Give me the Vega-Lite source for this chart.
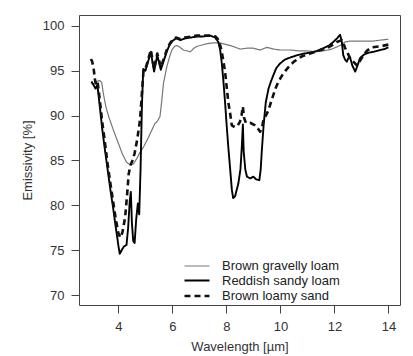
{
  "$schema": "https://vega.github.io/schema/vega-lite/v6.json",
  "autosize": "none",
  "width": 321,
  "height": 290,
  "padding": {"left": 79, "top": 15, "right": 13, "bottom": 51},
  "background": "white",
  "config": {
    "view": {"stroke": "#444444", "strokeWidth": 1},
    "font": "Liberation Sans",
    "axis": {"grid": false, "domain": false, "labelFont": "Liberation Sans", "titleFont": "Liberation Sans", "labelFontSize": 13, "titleFontSize": 13, "titleFontWeight": "normal", "labelColor": "#333333", "titleColor": "#333333", "tickColor": "#444444", "tickSize": 8}
  },
  "data": {"values": [
    {"x":3.0,"y":93.5,"soil":"Brown gravelly loam"},
    {"x":3.1,"y":93.6,"soil":"Brown gravelly loam"},
    {"x":3.2,"y":93.8,"soil":"Brown gravelly loam"},
    {"x":3.3,"y":93.9,"soil":"Brown gravelly loam"},
    {"x":3.38,"y":93.7,"soil":"Brown gravelly loam"},
    {"x":3.45,"y":92.3,"soil":"Brown gravelly loam"},
    {"x":3.55,"y":90.8,"soil":"Brown gravelly loam"},
    {"x":3.65,"y":89.8,"soil":"Brown gravelly loam"},
    {"x":3.8,"y":88.5,"soil":"Brown gravelly loam"},
    {"x":4.0,"y":86.9,"soil":"Brown gravelly loam"},
    {"x":4.15,"y":85.7,"soil":"Brown gravelly loam"},
    {"x":4.3,"y":84.8,"soil":"Brown gravelly loam"},
    {"x":4.45,"y":84.5,"soil":"Brown gravelly loam"},
    {"x":4.55,"y":84.6,"soil":"Brown gravelly loam"},
    {"x":4.68,"y":85.2,"soil":"Brown gravelly loam"},
    {"x":4.8,"y":85.9,"soil":"Brown gravelly loam"},
    {"x":4.93,"y":86.5,"soil":"Brown gravelly loam"},
    {"x":5.1,"y":87.5,"soil":"Brown gravelly loam"},
    {"x":5.24,"y":88.4,"soil":"Brown gravelly loam"},
    {"x":5.35,"y":89.1,"soil":"Brown gravelly loam"},
    {"x":5.45,"y":89.4,"soil":"Brown gravelly loam"},
    {"x":5.54,"y":89.9,"soil":"Brown gravelly loam"},
    {"x":5.6,"y":91.5,"soil":"Brown gravelly loam"},
    {"x":5.67,"y":93.6,"soil":"Brown gravelly loam"},
    {"x":5.79,"y":95.4,"soil":"Brown gravelly loam"},
    {"x":5.9,"y":96.6,"soil":"Brown gravelly loam"},
    {"x":5.98,"y":97.3,"soil":"Brown gravelly loam"},
    {"x":6.08,"y":97.7,"soil":"Brown gravelly loam"},
    {"x":6.16,"y":97.8,"soil":"Brown gravelly loam"},
    {"x":6.28,"y":97.6,"soil":"Brown gravelly loam"},
    {"x":6.41,"y":97.3,"soil":"Brown gravelly loam"},
    {"x":6.55,"y":97.2,"soil":"Brown gravelly loam"},
    {"x":6.66,"y":97.1,"soil":"Brown gravelly loam"},
    {"x":6.8,"y":97.5,"soil":"Brown gravelly loam"},
    {"x":6.9,"y":97.7,"soil":"Brown gravelly loam"},
    {"x":7.03,"y":97.8,"soil":"Brown gravelly loam"},
    {"x":7.27,"y":98.0,"soil":"Brown gravelly loam"},
    {"x":7.52,"y":98.1,"soil":"Brown gravelly loam"},
    {"x":7.75,"y":98.1,"soil":"Brown gravelly loam"},
    {"x":8.01,"y":97.9,"soil":"Brown gravelly loam"},
    {"x":8.25,"y":97.7,"soil":"Brown gravelly loam"},
    {"x":8.51,"y":97.4,"soil":"Brown gravelly loam"},
    {"x":8.75,"y":97.5,"soil":"Brown gravelly loam"},
    {"x":9.0,"y":97.5,"soil":"Brown gravelly loam"},
    {"x":9.25,"y":97.3,"soil":"Brown gravelly loam"},
    {"x":9.5,"y":97.6,"soil":"Brown gravelly loam"},
    {"x":9.75,"y":97.4,"soil":"Brown gravelly loam"},
    {"x":9.99,"y":97.3,"soil":"Brown gravelly loam"},
    {"x":10.36,"y":97.3,"soil":"Brown gravelly loam"},
    {"x":10.7,"y":97.2,"soil":"Brown gravelly loam"},
    {"x":10.98,"y":97.2,"soil":"Brown gravelly loam"},
    {"x":11.3,"y":97.1,"soil":"Brown gravelly loam"},
    {"x":11.59,"y":97.2,"soil":"Brown gravelly loam"},
    {"x":11.9,"y":97.4,"soil":"Brown gravelly loam"},
    {"x":12.21,"y":97.8,"soil":"Brown gravelly loam"},
    {"x":12.4,"y":98.2,"soil":"Brown gravelly loam"},
    {"x":12.6,"y":98.3,"soil":"Brown gravelly loam"},
    {"x":12.83,"y":98.3,"soil":"Brown gravelly loam"},
    {"x":13.1,"y":98.3,"soil":"Brown gravelly loam"},
    {"x":13.44,"y":98.3,"soil":"Brown gravelly loam"},
    {"x":13.7,"y":98.4,"soil":"Brown gravelly loam"},
    {"x":14.0,"y":98.5,"soil":"Brown gravelly loam"},

    {"x":3.0,"y":93.8,"soil":"Reddish sandy loam"},
    {"x":3.08,"y":93.4,"soil":"Reddish sandy loam"},
    {"x":3.15,"y":93.0,"soil":"Reddish sandy loam"},
    {"x":3.22,"y":93.4,"soil":"Reddish sandy loam"},
    {"x":3.3,"y":91.3,"soil":"Reddish sandy loam"},
    {"x":3.4,"y":88.5,"soil":"Reddish sandy loam"},
    {"x":3.5,"y":86.2,"soil":"Reddish sandy loam"},
    {"x":3.6,"y":84.0,"soil":"Reddish sandy loam"},
    {"x":3.7,"y":81.8,"soil":"Reddish sandy loam"},
    {"x":3.8,"y":79.8,"soil":"Reddish sandy loam"},
    {"x":3.9,"y":77.6,"soil":"Reddish sandy loam"},
    {"x":4.0,"y":75.5,"soil":"Reddish sandy loam"},
    {"x":4.05,"y":74.6,"soil":"Reddish sandy loam"},
    {"x":4.12,"y":75.0,"soil":"Reddish sandy loam"},
    {"x":4.2,"y":75.4,"soil":"Reddish sandy loam"},
    {"x":4.3,"y":75.6,"soil":"Reddish sandy loam"},
    {"x":4.36,"y":77.5,"soil":"Reddish sandy loam"},
    {"x":4.42,"y":80.5,"soil":"Reddish sandy loam"},
    {"x":4.46,"y":81.5,"soil":"Reddish sandy loam"},
    {"x":4.5,"y":78.0,"soil":"Reddish sandy loam"},
    {"x":4.55,"y":76.0,"soil":"Reddish sandy loam"},
    {"x":4.6,"y":75.8,"soil":"Reddish sandy loam"},
    {"x":4.66,"y":78.5,"soil":"Reddish sandy loam"},
    {"x":4.72,"y":80.2,"soil":"Reddish sandy loam"},
    {"x":4.77,"y":79.0,"soil":"Reddish sandy loam"},
    {"x":4.82,"y":84.0,"soil":"Reddish sandy loam"},
    {"x":4.87,"y":91.0,"soil":"Reddish sandy loam"},
    {"x":4.92,"y":95.2,"soil":"Reddish sandy loam"},
    {"x":5.0,"y":95.0,"soil":"Reddish sandy loam"},
    {"x":5.08,"y":95.8,"soil":"Reddish sandy loam"},
    {"x":5.2,"y":97.1,"soil":"Reddish sandy loam"},
    {"x":5.32,"y":94.9,"soil":"Reddish sandy loam"},
    {"x":5.44,"y":96.7,"soil":"Reddish sandy loam"},
    {"x":5.57,"y":95.1,"soil":"Reddish sandy loam"},
    {"x":5.69,"y":96.2,"soil":"Reddish sandy loam"},
    {"x":5.8,"y":97.2,"soil":"Reddish sandy loam"},
    {"x":5.9,"y":97.9,"soil":"Reddish sandy loam"},
    {"x":6.0,"y":98.3,"soil":"Reddish sandy loam"},
    {"x":6.13,"y":98.6,"soil":"Reddish sandy loam"},
    {"x":6.3,"y":98.4,"soil":"Reddish sandy loam"},
    {"x":6.47,"y":98.6,"soil":"Reddish sandy loam"},
    {"x":6.7,"y":98.7,"soil":"Reddish sandy loam"},
    {"x":6.9,"y":98.8,"soil":"Reddish sandy loam"},
    {"x":7.1,"y":98.8,"soil":"Reddish sandy loam"},
    {"x":7.4,"y":98.9,"soil":"Reddish sandy loam"},
    {"x":7.58,"y":98.7,"soil":"Reddish sandy loam"},
    {"x":7.7,"y":98.2,"soil":"Reddish sandy loam"},
    {"x":7.77,"y":97.3,"soil":"Reddish sandy loam"},
    {"x":7.83,"y":95.8,"soil":"Reddish sandy loam"},
    {"x":7.89,"y":93.8,"soil":"Reddish sandy loam"},
    {"x":7.95,"y":91.5,"soil":"Reddish sandy loam"},
    {"x":8.01,"y":88.9,"soil":"Reddish sandy loam"},
    {"x":8.07,"y":86.5,"soil":"Reddish sandy loam"},
    {"x":8.14,"y":84.0,"soil":"Reddish sandy loam"},
    {"x":8.2,"y":81.8,"soil":"Reddish sandy loam"},
    {"x":8.25,"y":80.8,"soil":"Reddish sandy loam"},
    {"x":8.32,"y":81.0,"soil":"Reddish sandy loam"},
    {"x":8.44,"y":82.4,"soil":"Reddish sandy loam"},
    {"x":8.52,"y":84.0,"soil":"Reddish sandy loam"},
    {"x":8.57,"y":86.5,"soil":"Reddish sandy loam"},
    {"x":8.61,"y":89.0,"soil":"Reddish sandy loam"},
    {"x":8.64,"y":86.0,"soil":"Reddish sandy loam"},
    {"x":8.7,"y":84.0,"soil":"Reddish sandy loam"},
    {"x":8.76,"y":83.2,"soil":"Reddish sandy loam"},
    {"x":8.88,"y":83.0,"soil":"Reddish sandy loam"},
    {"x":9.0,"y":83.2,"soil":"Reddish sandy loam"},
    {"x":9.1,"y":82.9,"soil":"Reddish sandy loam"},
    {"x":9.22,"y":82.8,"soil":"Reddish sandy loam"},
    {"x":9.27,"y":84.0,"soil":"Reddish sandy loam"},
    {"x":9.31,"y":86.0,"soil":"Reddish sandy loam"},
    {"x":9.38,"y":89.0,"soil":"Reddish sandy loam"},
    {"x":9.46,"y":91.5,"soil":"Reddish sandy loam"},
    {"x":9.56,"y":93.0,"soil":"Reddish sandy loam"},
    {"x":9.65,"y":93.8,"soil":"Reddish sandy loam"},
    {"x":9.74,"y":94.5,"soil":"Reddish sandy loam"},
    {"x":9.85,"y":95.3,"soil":"Reddish sandy loam"},
    {"x":9.99,"y":95.8,"soil":"Reddish sandy loam"},
    {"x":10.15,"y":96.2,"soil":"Reddish sandy loam"},
    {"x":10.3,"y":96.4,"soil":"Reddish sandy loam"},
    {"x":10.6,"y":96.7,"soil":"Reddish sandy loam"},
    {"x":10.85,"y":96.9,"soil":"Reddish sandy loam"},
    {"x":11.1,"y":97.0,"soil":"Reddish sandy loam"},
    {"x":11.35,"y":97.2,"soil":"Reddish sandy loam"},
    {"x":11.59,"y":97.5,"soil":"Reddish sandy loam"},
    {"x":11.8,"y":97.8,"soil":"Reddish sandy loam"},
    {"x":11.96,"y":98.2,"soil":"Reddish sandy loam"},
    {"x":12.1,"y":98.6,"soil":"Reddish sandy loam"},
    {"x":12.21,"y":99.0,"soil":"Reddish sandy loam"},
    {"x":12.27,"y":98.3,"soil":"Reddish sandy loam"},
    {"x":12.33,"y":96.7,"soil":"Reddish sandy loam"},
    {"x":12.4,"y":96.2,"soil":"Reddish sandy loam"},
    {"x":12.46,"y":96.0,"soil":"Reddish sandy loam"},
    {"x":12.52,"y":96.4,"soil":"Reddish sandy loam"},
    {"x":12.58,"y":96.5,"soil":"Reddish sandy loam"},
    {"x":12.66,"y":95.6,"soil":"Reddish sandy loam"},
    {"x":12.77,"y":94.9,"soil":"Reddish sandy loam"},
    {"x":12.86,"y":95.6,"soil":"Reddish sandy loam"},
    {"x":12.95,"y":96.4,"soil":"Reddish sandy loam"},
    {"x":13.1,"y":96.8,"soil":"Reddish sandy loam"},
    {"x":13.26,"y":97.0,"soil":"Reddish sandy loam"},
    {"x":13.45,"y":97.1,"soil":"Reddish sandy loam"},
    {"x":13.69,"y":97.3,"soil":"Reddish sandy loam"},
    {"x":13.85,"y":97.4,"soil":"Reddish sandy loam"},
    {"x":14.0,"y":97.6,"soil":"Reddish sandy loam"},

    {"x":2.98,"y":96.3,"soil":"Brown loamy sand"},
    {"x":3.03,"y":96.0,"soil":"Brown loamy sand"},
    {"x":3.08,"y":95.3,"soil":"Brown loamy sand"},
    {"x":3.13,"y":94.0,"soil":"Brown loamy sand"},
    {"x":3.18,"y":93.4,"soil":"Brown loamy sand"},
    {"x":3.23,"y":93.7,"soil":"Brown loamy sand"},
    {"x":3.3,"y":92.0,"soil":"Brown loamy sand"},
    {"x":3.4,"y":89.3,"soil":"Brown loamy sand"},
    {"x":3.5,"y":87.0,"soil":"Brown loamy sand"},
    {"x":3.6,"y":84.6,"soil":"Brown loamy sand"},
    {"x":3.7,"y":82.5,"soil":"Brown loamy sand"},
    {"x":3.8,"y":80.5,"soil":"Brown loamy sand"},
    {"x":3.9,"y":78.5,"soil":"Brown loamy sand"},
    {"x":4.0,"y":76.9,"soil":"Brown loamy sand"},
    {"x":4.07,"y":76.4,"soil":"Brown loamy sand"},
    {"x":4.15,"y":77.0,"soil":"Brown loamy sand"},
    {"x":4.25,"y":78.7,"soil":"Brown loamy sand"},
    {"x":4.33,"y":81.5,"soil":"Brown loamy sand"},
    {"x":4.38,"y":83.5,"soil":"Brown loamy sand"},
    {"x":4.45,"y":84.5,"soil":"Brown loamy sand"},
    {"x":4.52,"y":85.0,"soil":"Brown loamy sand"},
    {"x":4.6,"y":85.8,"soil":"Brown loamy sand"},
    {"x":4.7,"y":87.4,"soil":"Brown loamy sand"},
    {"x":4.8,"y":89.5,"soil":"Brown loamy sand"},
    {"x":4.87,"y":92.5,"soil":"Brown loamy sand"},
    {"x":4.93,"y":95.0,"soil":"Brown loamy sand"},
    {"x":5.0,"y":95.2,"soil":"Brown loamy sand"},
    {"x":5.08,"y":96.0,"soil":"Brown loamy sand"},
    {"x":5.2,"y":97.3,"soil":"Brown loamy sand"},
    {"x":5.32,"y":95.2,"soil":"Brown loamy sand"},
    {"x":5.44,"y":96.9,"soil":"Brown loamy sand"},
    {"x":5.57,"y":95.4,"soil":"Brown loamy sand"},
    {"x":5.69,"y":96.4,"soil":"Brown loamy sand"},
    {"x":5.8,"y":97.4,"soil":"Brown loamy sand"},
    {"x":5.9,"y":98.0,"soil":"Brown loamy sand"},
    {"x":6.0,"y":98.4,"soil":"Brown loamy sand"},
    {"x":6.13,"y":98.7,"soil":"Brown loamy sand"},
    {"x":6.3,"y":98.5,"soil":"Brown loamy sand"},
    {"x":6.47,"y":98.7,"soil":"Brown loamy sand"},
    {"x":6.7,"y":98.8,"soil":"Brown loamy sand"},
    {"x":6.9,"y":98.9,"soil":"Brown loamy sand"},
    {"x":7.1,"y":98.9,"soil":"Brown loamy sand"},
    {"x":7.4,"y":98.9,"soil":"Brown loamy sand"},
    {"x":7.6,"y":98.8,"soil":"Brown loamy sand"},
    {"x":7.72,"y":98.4,"soil":"Brown loamy sand"},
    {"x":7.83,"y":97.1,"soil":"Brown loamy sand"},
    {"x":7.95,"y":94.9,"soil":"Brown loamy sand"},
    {"x":8.07,"y":91.5,"soil":"Brown loamy sand"},
    {"x":8.14,"y":90.2,"soil":"Brown loamy sand"},
    {"x":8.2,"y":88.9,"soil":"Brown loamy sand"},
    {"x":8.32,"y":88.7,"soil":"Brown loamy sand"},
    {"x":8.42,"y":88.9,"soil":"Brown loamy sand"},
    {"x":8.5,"y":89.3,"soil":"Brown loamy sand"},
    {"x":8.56,"y":90.0,"soil":"Brown loamy sand"},
    {"x":8.61,"y":91.0,"soil":"Brown loamy sand"},
    {"x":8.65,"y":89.8,"soil":"Brown loamy sand"},
    {"x":8.72,"y":89.2,"soil":"Brown loamy sand"},
    {"x":8.88,"y":89.2,"soil":"Brown loamy sand"},
    {"x":9.06,"y":88.9,"soil":"Brown loamy sand"},
    {"x":9.18,"y":88.5,"soil":"Brown loamy sand"},
    {"x":9.25,"y":88.2,"soil":"Brown loamy sand"},
    {"x":9.32,"y":88.7,"soil":"Brown loamy sand"},
    {"x":9.37,"y":89.5,"soil":"Brown loamy sand"},
    {"x":9.46,"y":90.0,"soil":"Brown loamy sand"},
    {"x":9.56,"y":90.6,"soil":"Brown loamy sand"},
    {"x":9.65,"y":91.5,"soil":"Brown loamy sand"},
    {"x":9.74,"y":92.3,"soil":"Brown loamy sand"},
    {"x":9.83,"y":93.1,"soil":"Brown loamy sand"},
    {"x":9.93,"y":93.8,"soil":"Brown loamy sand"},
    {"x":10.11,"y":94.7,"soil":"Brown loamy sand"},
    {"x":10.3,"y":95.4,"soil":"Brown loamy sand"},
    {"x":10.5,"y":96.0,"soil":"Brown loamy sand"},
    {"x":10.8,"y":96.6,"soil":"Brown loamy sand"},
    {"x":11.1,"y":96.9,"soil":"Brown loamy sand"},
    {"x":11.4,"y":97.2,"soil":"Brown loamy sand"},
    {"x":11.72,"y":97.5,"soil":"Brown loamy sand"},
    {"x":11.95,"y":97.9,"soil":"Brown loamy sand"},
    {"x":12.09,"y":98.2,"soil":"Brown loamy sand"},
    {"x":12.27,"y":98.4,"soil":"Brown loamy sand"},
    {"x":12.34,"y":98.0,"soil":"Brown loamy sand"},
    {"x":12.4,"y":97.5,"soil":"Brown loamy sand"},
    {"x":12.5,"y":96.9,"soil":"Brown loamy sand"},
    {"x":12.58,"y":96.4,"soil":"Brown loamy sand"},
    {"x":12.7,"y":96.0,"soil":"Brown loamy sand"},
    {"x":12.83,"y":95.6,"soil":"Brown loamy sand"},
    {"x":12.95,"y":96.1,"soil":"Brown loamy sand"},
    {"x":13.07,"y":96.7,"soil":"Brown loamy sand"},
    {"x":13.2,"y":97.2,"soil":"Brown loamy sand"},
    {"x":13.38,"y":97.6,"soil":"Brown loamy sand"},
    {"x":13.69,"y":97.7,"soil":"Brown loamy sand"},
    {"x":14.0,"y":97.9,"soil":"Brown loamy sand"}
  ]},
  "mark": {"type": "line", "strokeJoin": "round", "strokeCap": "butt", "clip": true},
  "encoding": {
    "x": {"field": "x", "type": "quantitative", "title": "Wavelength [µm]",
      "scale": {"domain": [2.54, 14.43], "nice": false, "zero": false},
      "axis": {"values": [4, 6, 8, 10, 12, 14], "labelPadding": 7, "titleX": 160.5, "titleY": 41, "titleBaseline": "middle", "titleAlign": "center"}},
    "y": {"field": "y", "type": "quantitative", "title": "Emissivity [%]",
      "scale": {"domain": [68.9, 101.2], "nice": false, "zero": false},
      "axis": {"values": [70, 75, 80, 85, 90, 95, 100], "labelPadding": 7, "titleAngle": -90, "titleX": -52, "titleY": 145, "titleBaseline": "middle", "titleAlign": "center"}},
    "color": {"field": "soil", "type": "nominal",
      "scale": {"domain": ["Brown gravelly loam", "Reddish sandy loam", "Brown loamy sand"], "range": ["#777777", "#000000", "#111111"]},
      "legend": {"orient": "none", "legendX": 110, "legendY": 244, "title": null, "symbolType": "M-2,0H2", "symbolSize": 156, "labelFontSize": 13, "labelColor": "#222222", "labelOffset": 17, "rowPadding": -2, "padding": 0}},
    "strokeDash": {"field": "soil", "type": "nominal",
      "scale": {"domain": ["Brown gravelly loam", "Reddish sandy loam", "Brown loamy sand"], "range": [[1, 0], [1, 0], [6, 4]]},
      "legend": {"orient": "none", "legendX": 110, "legendY": 244, "title": null}},
    "strokeWidth": {"field": "soil", "type": "nominal",
      "scale": {"domain": ["Brown gravelly loam", "Reddish sandy loam", "Brown loamy sand"], "range": [1.2, 2.6, 1.8]},
      "legend": {"orient": "none", "legendX": 110, "legendY": 244, "title": null}}
  }
}
